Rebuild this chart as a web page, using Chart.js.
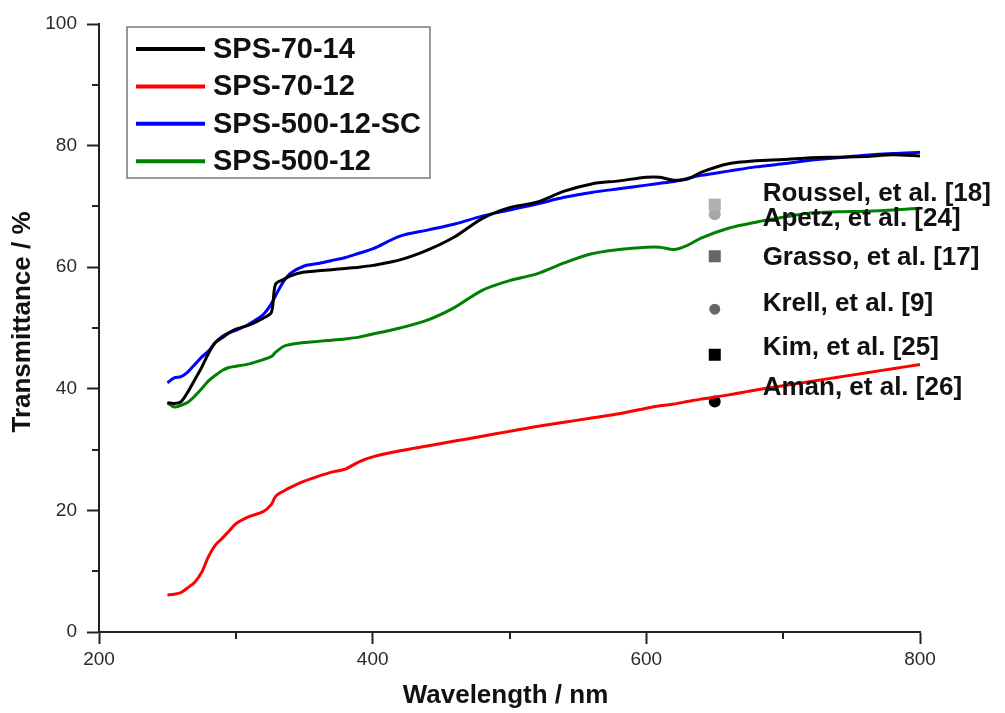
<!DOCTYPE html>
<html>
<head>
<meta charset="utf-8">
<script src="https://cdn.jsdelivr.net/npm/chart.js@4.4.0/dist/chart.umd.min.js"></script>
<style>
  html, body { margin: 0; padding: 0; background: #fff; }
  #wrap { width: 1005px; height: 713px; }
</style>
</head>
<body>
<div id="wrap"><canvas id="transChart" width="1005" height="713"></canvas></div>
<script>
// wavelength grid (nm) shared by the four spectra
const wavelengths = [250, 255, 260, 265, 270, 275, 280, 285, 290, 295, 300, 310, 320, 326, 329, 335, 340, 350, 360, 370, 380, 390, 400,
  420, 440, 460, 480, 500, 520, 540, 560, 580, 600, 610, 620, 630, 640, 660, 680, 700, 720, 740, 760, 780, 800];

const sps70_14 = [37.7, 37.6, 37.9, 39.5, 41.5, 43.5, 45.8, 47.6, 48.4, 49.2, 49.8, 50.5, 51.6, 52.6, 57.2, 58.0, 58.6, 59.2, 59.4, 59.6, 59.8, 60.0, 60.3,
  61.2, 62.8, 65.0, 68.0, 69.8, 70.7, 72.5, 73.7, 74.2, 74.8, 74.8, 74.3, 74.5, 75.6, 77.0, 77.5, 77.7, 78.0, 78.1, 78.2, 78.5, 78.3];

const sps70_12 = [6.1, 6.2, 6.5, 7.3, 8.2, 9.8, 12.4, 14.3, 15.4, 16.6, 17.8, 19.0, 19.8, 21.0, 22.3, 23.2, 23.8, 24.8, 25.6, 26.3, 26.8, 28.0, 28.8,
  29.8, 30.6, 31.4, 32.2, 33.0, 33.8, 34.5, 35.2, 35.9, 36.8, 37.2, 37.5, 37.9, 38.3, 39.0, 39.8, 40.5, 41.2, 41.9, 42.6, 43.3, 44.0];

const sps500_12_sc = [41.0, 41.8, 42.0, 42.8, 44.0, 45.2, 46.2, 47.6, 48.6, 49.2, 49.6, 50.7, 52.2, 54.0, 55.3, 57.7, 59.0, 60.2, 60.6, 61.1, 61.6, 62.3, 63.0,
  65.1, 66.1, 67.1, 68.4, 69.4, 70.4, 71.5, 72.3, 72.9, 73.5, 73.8, 74.1, 74.6, 75.1, 75.8, 76.5, 77.0, 77.6, 78.0, 78.4, 78.7, 78.9];

const sps500_12 = [37.7, 37.0, 37.3, 37.8, 38.8, 40.0, 41.3, 42.2, 43.0, 43.5, 43.7, 44.1, 44.8, 45.3, 46.0, 47.0, 47.3, 47.6, 47.8, 48.0, 48.2, 48.5, 49.0,
  50.0, 51.3, 53.4, 56.2, 57.8, 58.9, 60.7, 62.2, 62.9, 63.3, 63.3, 62.9, 63.6, 64.8, 66.4, 67.4, 68.2, 68.9, 69.1, 69.2, 69.4, 69.7];

const seriesNames = ['SPS-70-14', 'SPS-70-12', 'SPS-500-12-SC', 'SPS-500-12'];

// literature values, all at 650 nm
const refNames = ['Roussel, et al. [18]', 'Apetz, et al. [24]', 'Grasso, et al. [17]', 'Krell, et al. [9]', 'Kim, et al. [25]', 'Aman, et al. [26]'];
const refWavelength = 650;
const refValues = [70.3, 68.7, 61.8, 53.1, 45.6, 37.9];
// where the text labels sit (data units)
const refLabelWavelength = 685;
const refLabelValues = [72.1, 67.9, 61.5, 53.9, 46.7, 40.1];

const lineColors = ['#000000', '#ff0000', '#0000ff', '#008000'];
const refStyles = [
  { color: '#b0b0b0', shape: 'rect', r: 8.5 },
  { color: '#a8a8a8', shape: 'circle', r: 6 },
  { color: '#666666', shape: 'rect', r: 8.5 },
  { color: '#666666', shape: 'circle', r: 5.5 },
  { color: '#000000', shape: 'rect', r: 8.5 },
  { color: '#000000', shape: 'circle', r: 6 }
];

const FONT = '"Liberation Sans", Arial, sans-serif';

const lineDatasets = [sps70_14, sps70_12, sps500_12_sc, sps500_12].map((vals, i) => ({
  type: 'line',
  label: seriesNames[i],
  data: wavelengths.map((w, j) => ({ x: w, y: vals[j] })),
  borderColor: lineColors[i],
  borderWidth: 3,
  pointRadius: 0,
  tension: 0.3,
  fill: false
}));

const refDatasets = refNames.map((name, i) => ({
  type: 'scatter',
  label: name,
  data: [{ x: refWavelength, y: refValues[i] }],
  pointStyle: refStyles[i].shape,
  pointRadius: refStyles[i].r,
  backgroundColor: refStyles[i].color,
  borderColor: refStyles[i].color,
  borderWidth: 0
}));

// legend box, axis titles, minor ticks and reference labels
const decorPlugin = {
  id: 'decor',
  afterDraw(chart) {
    const { ctx, chartArea: area, scales: { x, y } } = chart;
    ctx.save();

    // minor ticks
    ctx.strokeStyle = '#222';
    ctx.lineWidth = 2;
    ctx.beginPath();
    x.ticks.forEach(t => {
      if (t.value % 200 !== 0) {
        const px = Math.round(x.getPixelForValue(t.value));
        ctx.moveTo(px, area.bottom);
        ctx.lineTo(px, area.bottom + 7);
      }
    });
    y.ticks.forEach(t => {
      if (t.value % 20 !== 0) {
        const py = Math.round(y.getPixelForValue(t.value));
        ctx.moveTo(area.left, py);
        ctx.lineTo(area.left - 7, py);
      }
    });
    ctx.stroke();

    // axis titles
    ctx.fillStyle = '#111';
    ctx.font = 'bold 26px ' + FONT;
    ctx.textAlign = 'center';
    ctx.textBaseline = 'middle';
    ctx.fillText('Wavelength / nm', (area.left + area.right) / 2 - 4, chart.height - 17);
    ctx.save();
    ctx.translate(23, (area.top + area.bottom) / 2 - 6);
    ctx.rotate(-Math.PI / 2);
    ctx.fillText('Transmittance / %', 0, 0);
    ctx.restore();

    // legend
    const bx = area.left + 28, by = area.top + 3, bw = 303, bh = 151;
    ctx.strokeStyle = '#777';
    ctx.lineWidth = 1.5;
    ctx.strokeRect(bx, by, bw, bh);
    ctx.font = 'bold 29px ' + FONT;
    ctx.textAlign = 'left';
    seriesNames.forEach((name, i) => {
      const ry = by + 22 + i * 37.4;
      ctx.strokeStyle = lineColors[i];
      ctx.lineWidth = 4;
      ctx.beginPath();
      ctx.moveTo(bx + 9, ry);
      ctx.lineTo(bx + 78, ry);
      ctx.stroke();
      ctx.fillStyle = '#111';
      ctx.fillText(name, bx + 86, ry + 1);
    });

    // reference labels
    ctx.font = 'bold 26px ' + FONT;
    ctx.fillStyle = '#111';
    const lx = x.getPixelForValue(refLabelWavelength);
    refNames.forEach((name, i) => {
      ctx.fillText(name, lx, y.getPixelForValue(refLabelValues[i]));
    });

    ctx.restore();
  }
};

new Chart(document.getElementById('transChart'), {
  data: { datasets: [...lineDatasets, ...refDatasets] },
  options: {
    responsive: false,
    animation: false,
    devicePixelRatio: 1,
    layout: { padding: { top: 24, right: 85, left: 0, bottom: 0 } },
    plugins: {
      legend: { display: false },
      tooltip: { enabled: false }
    },
    scales: {
      x: {
        type: 'linear',
        min: 200,
        max: 800,
        afterFit: scale => { scale.height = 81; },
        border: { display: true, color: '#222', width: 2 },
        grid: {
          drawOnChartArea: false,
          drawTicks: true,
          tickLength: 12,
          tickWidth: 2,
          tickColor: c => (c.tick && c.tick.value % 200 === 0) ? '#222' : 'rgba(0,0,0,0)'
        },
        ticks: {
          stepSize: 100,
          padding: 4,
          color: '#2a2a2a',
          font: { family: FONT, size: 19 },
          maxRotation: 0,
          autoSkip: false,
          callback: v => (v % 200 === 0 ? v : '')
        }
      },
      y: {
        type: 'linear',
        min: 0,
        max: 100,
        afterFit: scale => { scale.width = 99; },
        border: { display: true, color: '#222', width: 2 },
        grid: {
          drawOnChartArea: false,
          drawTicks: true,
          tickLength: 12,
          tickWidth: 2,
          tickColor: c => (c.tick && c.tick.value % 20 === 0) ? '#222' : 'rgba(0,0,0,0)'
        },
        ticks: {
          stepSize: 10,
          padding: 10,
          color: '#2a2a2a',
          font: { family: FONT, size: 19 },
          autoSkip: false,
          callback: v => (v % 20 === 0 ? v : '')
        }
      }
    }
  },
  plugins: [decorPlugin]
});
</script>
</body>
</html>
